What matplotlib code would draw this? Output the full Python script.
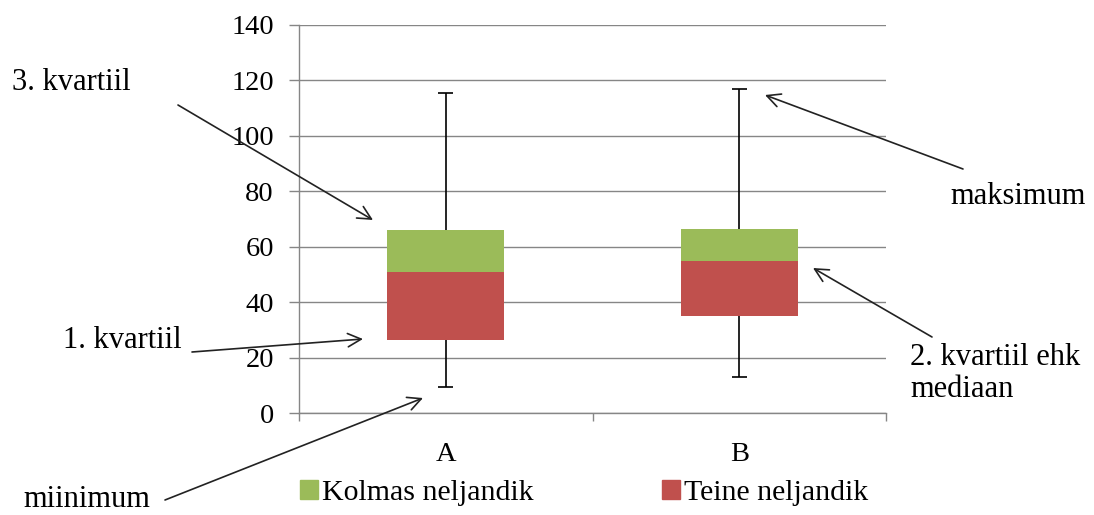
import matplotlib.pyplot as plt
import numpy as np
from matplotlib.patches import Patch

plt.rcParams['font.family'] = ['Liberation Serif', 'DejaVu Serif']

categories = ['A', 'B']
minimum = [9.5, 13]
q1 = [26.5, 35]
median = [51, 55]
q3 = [66, 66.5]
maximum = [115.5, 117]

green = '#9BBB59'
red = '#C0504D'
grid_col = '#868686'
fs = 20.5

W, H = 1094, 515
fig = plt.figure(figsize=(W / 100, H / 100), dpi=100)
ax = fig.add_axes([299 / W, 1 - 413.3 / H, (886 - 299) / W, (413.3 - 25) / H])

x = np.arange(len(categories))
q1 = np.array(q1)
median = np.array(median)
q3 = np.array(q3)
bw = 0.4

# invisible base, then second and third quarter stacked on top
ax.bar(x, q1, bw, color='none', zorder=2)
ax.bar(x, median - q1, bw, bottom=q1, color=red, zorder=2, label='Teine neljandik')
ax.bar(x, q3 - median, bw, bottom=median, color=green, zorder=2, label='Kolmas neljandik')

# whiskers
cap = 0.026
ax.vlines(x, q3, maximum, color='black', lw=1.2, zorder=3)
ax.vlines(x, minimum, q1, color='black', lw=1.2, zorder=3)
ax.hlines(maximum, x - cap, x + cap, color='black', lw=1.2, zorder=3)
ax.hlines(minimum, x - cap, x + cap, color='black', lw=1.2, zorder=3)

ax.set_xlim(-0.5, 1.5)
ax.set_ylim(0, 140)
ax.set_yticks(np.arange(0, 141, 20))
ax.yaxis.grid(True, color=grid_col, lw=1.0, zorder=0)
ax.set_axisbelow(True)

ax.set_xticks(x)
ax.set_xticklabels(categories)
ax.set_xticks([-0.5, 0.5, 1.5], minor=True)
ax.tick_params(axis='x', which='major', length=0, pad=21, labelsize=fs)
ax.tick_params(axis='x', which='minor', length=6, width=1.0, color=grid_col, direction='out')
ax.tick_params(axis='y', length=7, width=1.0, color=grid_col, pad=11, labelsize=fs)

for s in ['top', 'right']:
    ax.spines[s].set_visible(False)
for s in ['left', 'bottom']:
    ax.spines[s].set_color(grid_col)
    ax.spines[s].set_linewidth(1.0)

handles = [Patch(color=green), Patch(color=red)]
ax.legend(handles, ['Kolmas neljandik', 'Teine neljandik'], loc='center',
          bbox_to_anchor=(584 / W, 1 - 493 / H), bbox_transform=fig.transFigure,
          ncol=2, frameon=False, fontsize=21.5, handlelength=0.6, handleheight=0.6,
          handletextpad=0.15, columnspacing=4.3)

# annotations (figure pixel positions, measured from top)
labels = [
    ('3. kvartiil', 12, 90),
    ('1. kvartiil', 63, 348),
    ('miinimum', 23, 507),
    ('maksimum', 950, 204),
    ('2. kvartiil ehk', 910, 365),
    ('mediaan', 910, 397),
]
for txt, px, py in labels:
    fig.text(px / W, 1 - py / H, txt, fontsize=22, ha='left', va='baseline')

arrows = [
    ((178, 105), (373, 220)),
    ((192, 352), (363, 339)),
    ((165, 500), (423, 398)),
    ((963, 169), (765, 95)),
    ((932, 337), (813, 268)),
]
for (tx, ty), (hx, hy) in arrows:
    ax.annotate('', xy=(hx / W, 1 - hy / H), xytext=(tx / W, 1 - ty / H),
                xycoords='figure fraction', textcoords='figure fraction',
                arrowprops=dict(arrowstyle='->', color='#222222', lw=1.2,
                                mutation_scale=24, shrinkA=0, shrinkB=0),
                annotation_clip=False)

fig.savefig('out.png', dpi=100)
